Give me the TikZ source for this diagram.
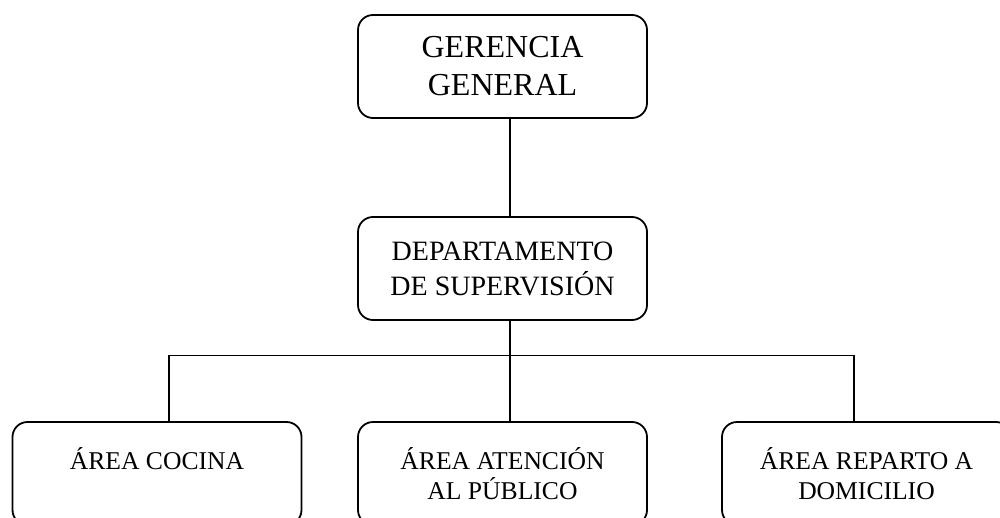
\documentclass[tikz,border=0pt]{standalone}
\usepackage{fontspec}
\setmainfont{Liberation Serif}
\usepackage{tikz}
\usetikzlibrary{positioning}

\begin{document}
\begin{tikzpicture}[
			main/.style = {draw, line width=.9pt, rounded corners=7.5pt, minimum width=144.5pt,
				minimum height=51.5pt, inner sep=0pt, align=center},
			link/.style = {line width=.6pt}
		]
		\path[use as bounding box, clip] (0,0) rectangle (500pt,-259pt);
		\node[main, font=\fontsize{16}{19}\selectfont] (ger) at (251.25pt,-33.25pt) {GERENCIA\\GENERAL};
		% Level 1.
		\node[main, below of=ger, node distance=101pt, font=\fontsize{14}{17.5}\selectfont] (dep) {DEPARTAMENTO\\DE SUPERVISIÓN};
		% Level 2.
		\node[main, below of=dep, node distance=102.5pt, font=\fontsize{12.8}{15}\selectfont] (aten) {ÁREA ATENCIÓN\\AL PÚBLICO};
		\node[main, left of=aten, node distance=172.75pt, font=\fontsize{12.8}{15}\selectfont] (coc) {ÁREA COCINA\\ \mbox{}};
		\node[main, right of=aten, node distance=182pt, font=\fontsize{12.8}{15}\selectfont] (rep) {ÁREA REPARTO A\\DOMICILIO};

		\draw[link] ([xshift=3.75pt]ger.south) -- ([xshift=3.75pt]dep.north);
		\draw[link] ([xshift=3.75pt]dep.south) -- ([xshift=3.75pt]aten.north);
		\draw[link] ([xshift=6pt]coc.north) |- ([xshift=-6.25pt,yshift=33pt]rep.north) -- ([xshift=-6.25pt]rep.north);
	\end{tikzpicture}
\end{document}
